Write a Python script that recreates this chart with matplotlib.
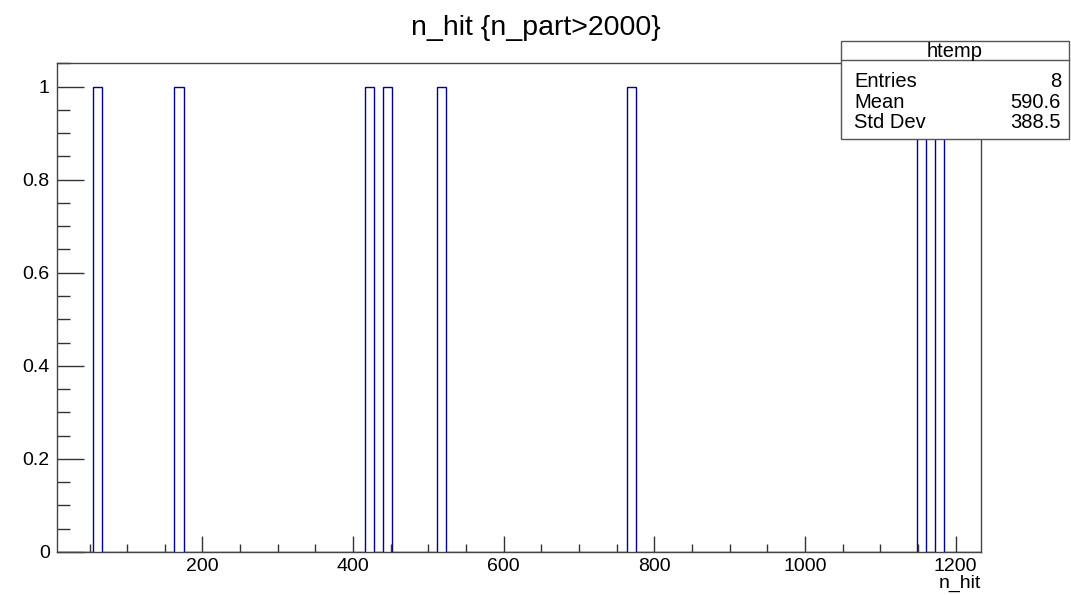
import numpy as np
import matplotlib
matplotlib.use("Agg")
import matplotlib.pyplot as plt
from matplotlib.patches import Rectangle
from matplotlib.lines import Line2D
from matplotlib.ticker import MultipleLocator

plt.rcParams['font.family'] = ['Liberation Sans', 'DejaVu Sans']

# n_hit values of the 8 entries (read from the bins)
n_hit = [60, 169, 421, 445, 518, 770, 1155, 1179]

# binning of htemp
x_lo = 6.4
bin_w = 12.03
n_bins = 102

y_ticks = [0, 0.2, 0.4, 0.6, 0.8, 1]
y_labels = ["0", "0.2", "0.4", "0.6", "0.8", "1"]
x_ticks = [200, 400, 600, 800, 1000, 1200]

stats_names = ["Entries", "Mean", "Std Dev"]
stats_values = ["8", "590.6", "388.5"]

edges = x_lo + bin_w * np.arange(n_bins + 1)
counts, _ = np.histogram(n_hit, bins=edges)

W, H = 1071, 595
fig = plt.figure(figsize=(W / 100, H / 100), dpi=100)
ax = fig.add_axes([56.7 / W, 1 - 552 / H, (980.7 - 56.7) / W, (552 - 63.3) / H])

ax.stairs(counts, edges, color='#000099', linewidth=1)

ax.set_xlim(edges[0], edges[-1])
ax.set_ylim(0, 1.05)
ax.set_xticks(x_ticks)
ax.xaxis.set_minor_locator(MultipleLocator(50))
ax.set_yticks(y_ticks)
ax.set_yticklabels(y_labels)
ax.yaxis.set_minor_locator(MultipleLocator(0.05))

ax.tick_params(axis='both', which='both', direction='in', colors='#333333',
               labelcolor='black', labelsize=14, width=1)
ax.tick_params(axis='y', which='major', length=19.5, pad=5)
ax.tick_params(axis='y', which='minor', length=9.5)
ax.tick_params(axis='x', which='major', length=11.5, pad=4.5)
ax.tick_params(axis='x', which='minor', length=5.8)
for s in ax.spines.values():
    s.set_color('#444444')
    s.set_linewidth(1)

ax.set_xlabel("n_hit", fontsize=14, loc='right', labelpad=0)

fig.text(0.5, 1 - 35 / H, "n_hit {n_part>2000}", ha='center', va='baseline', fontsize=20.5)

# stats box
bx0, bx1 = 841 / W, 1069 / W
by0, by1 = 1 - 139 / H, 1 - 41 / H
fig.patches.append(Rectangle((bx0, by0), bx1 - bx0, by1 - by0, transform=fig.transFigure,
                             facecolor='white', edgecolor='#555555', linewidth=1, zorder=5))
fig.lines.append(Line2D([bx0, bx1], [1 - 60 / H, 1 - 60 / H], transform=fig.transFigure,
                        color='#555555', linewidth=1, zorder=6))
fig.text((bx0 + bx1) / 2, 1 - 57 / H, "htemp", ha='center', va='baseline', fontsize=14.5, zorder=7)
for i, (name, val) in enumerate(zip(stats_names, stats_values)):
    yy = 1 - (87 + 20.5 * i) / H
    fig.text(854 / W, yy, name, ha='left', va='baseline', fontsize=14.5, zorder=7)
    fig.text(1061 / W, yy, val, ha='right', va='baseline', fontsize=14.5, zorder=7)

fig.savefig("out.png", dpi=100)
